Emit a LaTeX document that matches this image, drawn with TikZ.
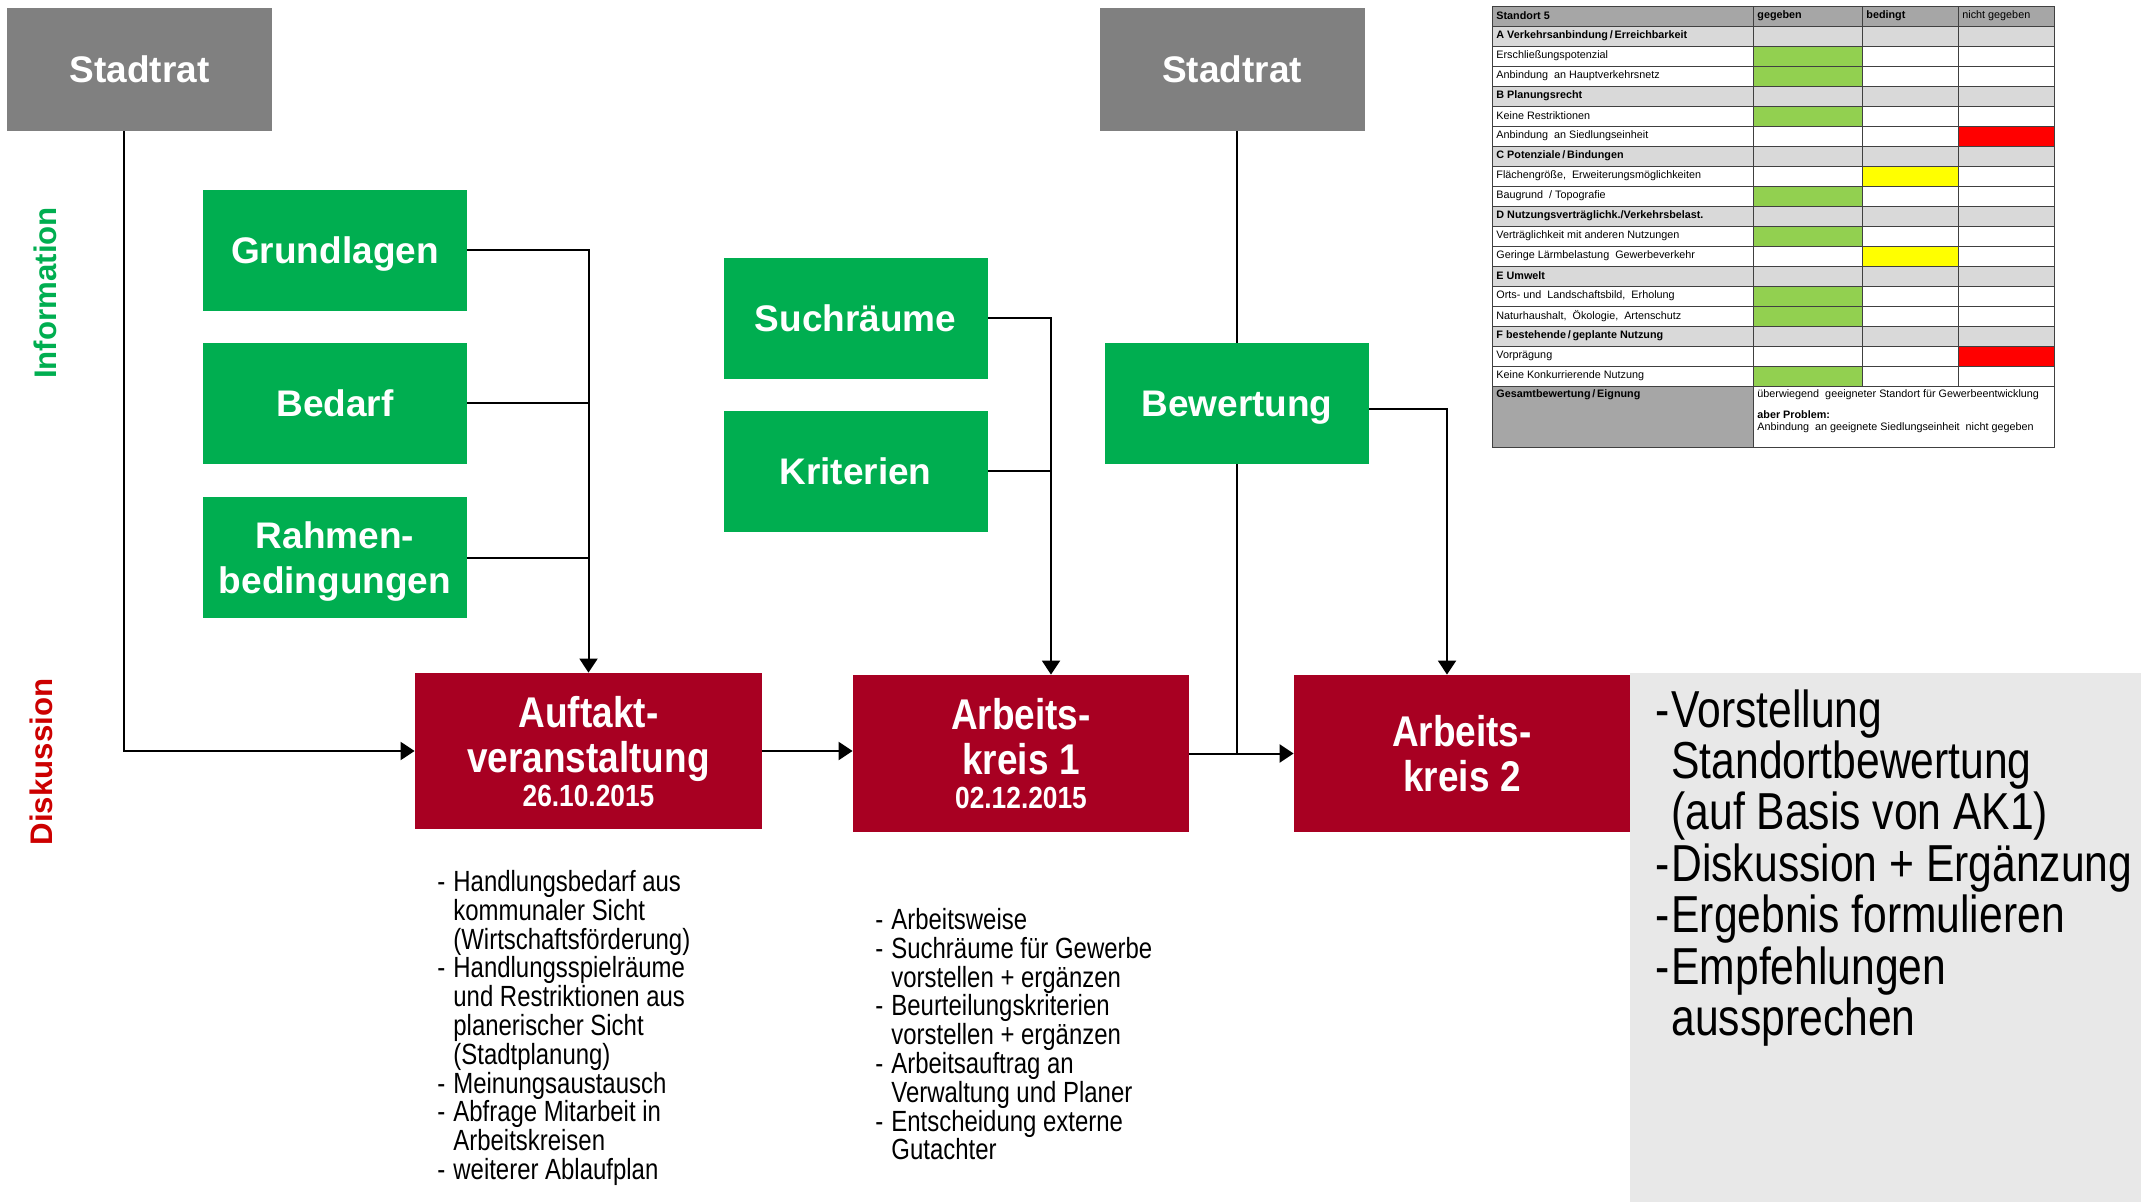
\documentclass[tikz,border=0pt]{standalone}
\usepackage{fontspec}
\setmainfont{Liberation Sans}
\newfontfamily\narrowfont[FakeStretch=0.82]{Liberation Sans}
\newfontfamily\titelfont[FakeStretch=0.86]{Liberation Sans}
\usepackage{tikz}
\usetikzlibrary{shapes,arrows.meta}
\usetikzlibrary{calc}
\definecolor{stadtgrau}{RGB}{128,128,128}
\definecolor{infogruen}{RGB}{0,174,80}
\definecolor{diskrot}{RGB}{168,0,34}
\definecolor{labelrot}{RGB}{204,0,0}
\definecolor{panelgrau}{RGB}{232,232,232}
\definecolor{ampelgruen}{RGB}{146,208,80}
\definecolor{ampelgelb}{RGB}{255,255,0}
\definecolor{ampelrot}{RGB}{255,0,0}
\definecolor{kopfgrau}{RGB}{166,166,166}
\definecolor{katgrau}{RGB}{217,217,217}
\newcommand{\strich}[1]{\makebox[8pt][l]{-}#1}
\newcommand{\weiter}[1]{\hspace*{8pt}#1}
\tikzstyle{ratblock} = [rectangle, fill=stadtgrau, text=white, inner sep=0pt, text depth=0pt,
    font=\fontsize{18.5}{22.5}\selectfont\bfseries, minimum width=132.5pt, minimum height=61.5pt]
\tikzstyle{infoblock} = [rectangle, fill=infogruen, text=white, inner sep=0pt, align=center, text depth=0pt,
    font=\fontsize{18.5}{22.5}\selectfont\bfseries, minimum width=132pt, minimum height=60.5pt]
\tikzstyle{diskblock} = [rectangle, fill=diskrot, text=white, inner sep=0pt, align=center, text depth=0pt,
    font=\titelfont\fontsize{21.5}{22.5}\selectfont\bfseries, minimum width=168pt, minimum height=78.5pt]
\tikzstyle{liste} = [anchor=north west, inner sep=0pt, align=left, font=\narrowfont\fontsize{14.6}{14.4}\selectfont]
\tikzstyle{line} = [draw, line width=1pt, -{Triangle[length=7pt,width=9pt]}]
\tikzstyle{joinline} = [draw, line width=1pt]
\tikzstyle{tabtext} = [anchor=west, inner sep=0pt, font=\fontsize{5.4}{6.5}\selectfont]
\tikzstyle{gitter} = [draw=black!75, line width=0.5pt]

\begin{document}
\begin{tikzpicture}[x=0.5pt, y=-0.5pt]
    \useasboundingbox (0,0) rectangle (2141,1202);
    \fill[panelgrau] (1630,673) rectangle (2141,1202);

    \node [ratblock] (stadtratL) at (139.5,69.5) {Stadtrat};
    \node [ratblock] (stadtratR) at (1232,69.5) {Stadtrat};
    \node [infoblock] (grundlagen) at (335,250.5) {Grundlagen};
    \node [infoblock, below of=grundlagen, node distance=76.5pt] (bedarf) {Bedarf};
    \node [infoblock, below of=bedarf, node distance=77.25pt] (rahmen) {Rahmen-\\bedingungen};
    \node [infoblock] (suchraeume) at (855.5,318.5) {Suchräume};
    \node [infoblock, below of=suchraeume, node distance=76.5pt] (kriterien) {Kriterien};
    \node [infoblock] (bewertung) at (1237,403.5) {Bewertung};
    \node [diskblock, minimum width=173.5pt, minimum height=78pt] (auftakt) at (588.5,751)
        {Auftakt-\\veranstaltung\\[-5.5pt]{\fontsize{15.3}{18}\selectfont 26.10.2015}};
    \node [diskblock] (akeins) at (1021,753.5)
        {Arbeits-\\kreis 1\\[-5.5pt]{\fontsize{15.3}{18}\selectfont 02.12.2015}};
    \node [diskblock] (akzwei) at (1462,753.5) {Arbeits-\\kreis 2};

    \node [rotate=90, text=infogruen, font=\fontsize{15.6}{18}\selectfont\bfseries] (information) at (45,293) {Information};
    \node [rotate=90, text=labelrot, font=\fontsize{15.6}{18}\selectfont\bfseries] (diskussion) at (41,762) {Diskussion};

    \node [liste] (punkteAuftakt) at (437,870) {\strich{Handlungsbedarf aus}\\ \weiter{kommunaler Sicht}\\
        \weiter{(Wirtschaftsförderung)}\\ \strich{Handlungsspielräume}\\ \weiter{und Restriktionen aus}\\
        \weiter{planerischer Sicht}\\ \weiter{(Stadtplanung)}\\ \strich{Meinungsaustausch}\\
        \strich{Abfrage Mitarbeit in}\\ \weiter{Arbeitskreisen}\\ \strich{weiterer Ablaufplan}};
    \node [liste] (punkteAKeins) at (875,908) {\strich{Arbeitsweise}\\ \strich{Suchräume für Gewerbe}\\
        \weiter{vorstellen + ergänzen}\\ \strich{Beurteilungskriterien}\\ \weiter{vorstellen + ergänzen}\\
        \strich{Arbeitsauftrag an}\\ \weiter{Verwaltung und Planer}\\ \strich{Entscheidung externe}\\
        \weiter{Gutachter}};
    \node [liste, font=\narrowfont\fontsize{26}{25.7}\selectfont] (punkteAKzwei) at (1655,689)
        {\strich{Vorstellung}\\ \weiter{Standortbewertung}\\ \weiter{(auf Basis von AK1)}\\
        \strich{Diskussion + Ergänzung}\\ \strich{Ergebnis formulieren}\\ \strich{Empfehlungen}\\
        \weiter{aussprechen}};

    % Draw edges
    \path [line] ([xshift=-8pt]stadtratL.south) |- (auftakt.west);
    \path [line] (grundlagen.east) -| (auftakt.north);
    \path [joinline] (bedarf.east) -- (bedarf.east -| auftakt.north);
    \path [joinline] (rahmen.east) -- (rahmen.east -| auftakt.north);
    \coordinate (suchziel) at ([xshift=15pt]akeins.north);
    \path [line] (suchraeume.east) -| (suchziel);
    \path [joinline] (kriterien.east) -- (kriterien.east -| suchziel);
    \path [joinline] (stadtratR.south -| bewertung.north) -- (bewertung.north);
    \path [joinline] (bewertung.south) -- (bewertung.south |- akeins.east);
    \path [line] ([yshift=-3pt]bewertung.east) -| ([xshift=-7.5pt]akzwei.north);
    \path [line] (auftakt.east) -- (auftakt.east -| akeins.west);
    \path [line] (akeins.east) -- (akzwei.west);

    % Bewertungstabelle Standort 5
    \foreach \i/\txt/\hg/\xa/\xb/\farbe in {
        0/{\bfseries Standort 5}/kopfgrau/1753/1753/white,
        1/{\bfseries A Verkehrsanbindung\,/\,Erreichbarkeit}/katgrau/1753/1753/white,
        2/{Erschließungspotenzial}/white/1753/1862/ampelgruen,
        3/{Anbindung\ \ an Hauptverkehrsnetz}/white/1753/1862/ampelgruen,
        4/{\bfseries B Planungsrecht}/katgrau/1753/1753/white,
        5/{Keine Restriktionen}/white/1753/1862/ampelgruen,
        6/{Anbindung\ \ an Siedlungseinheit}/white/1958/2054/ampelrot,
        7/{\bfseries C Potenziale\,/\,Bindungen}/katgrau/1753/1753/white,
        8/{Flächengröße,\ \ Erweiterungsmöglichkeiten}/white/1862/1958/ampelgelb,
        9/{Baugrund\ \ /\ Topografie}/white/1753/1862/ampelgruen,
        10/{\bfseries D Nutzungsverträglichk./Verkehrsbelast.}/katgrau/1753/1753/white,
        11/{Verträglichkeit mit anderen Nutzungen}/white/1753/1862/ampelgruen,
        12/{Geringe Lärmbelastung\ \ Gewerbeverkehr}/white/1862/1958/ampelgelb,
        13/{\bfseries E Umwelt}/katgrau/1753/1753/white,
        14/{Orts- und\ \ Landschaftsbild,\ \ Erholung}/white/1753/1862/ampelgruen,
        15/{Naturhaushalt,\ \ Ökologie,\ \ Artenschutz}/white/1753/1862/ampelgruen,
        16/{\bfseries F bestehende\,/\,geplante Nutzung}/katgrau/1753/1753/white,
        17/{Vorprägung}/white/1958/2054/ampelrot,
        18/{Keine Konkurrierende Nutzung}/white/1753/1862/ampelgruen}
    {
        \fill[\hg] (1492,7+20*\i) rectangle (2054,27+20*\i);
        \fill[\farbe] (\xa,7+20*\i) rectangle (\xb,27+20*\i);
        \node [tabtext] (zeile\i) at (1496,16+20*\i) {\txt};
    }
    \node [tabtext] (kopfgegeben) at (1757,16) {\bfseries gegeben};
    \node [tabtext] (kopfbedingt) at (1866,16) {\bfseries bedingt};
    \node [tabtext] (kopfnicht) at (1962,16) {nicht gegeben};
    \fill[kopfgrau] (1492,387) rectangle (1753,448);
    \node [tabtext] (gesamt) at (1496,395) {\bfseries Gesamtbewertung\,/\,Eignung};
    \node [tabtext] (eignung) at (1757,395) {überwiegend\ \ geeigneter Standort für Gewerbeentwicklung};
    \node [tabtext] (problem) at (1757,415) {\bfseries aber Problem:};
    \node [tabtext] (problemtext) at (1757,428) {Anbindung\ \ an geeignete Siedlungseinheit\ \ nicht gegeben};
    \foreach \i in {0,...,19}
        \draw [gitter] (1492,7+20*\i) -- (2054,7+20*\i);
    \draw [gitter] (1492,7) rectangle (2054,448);
    \draw [gitter] (1753,7) -- (1753,448);
    \foreach \xs in {1862,1958}
        \draw [gitter] (\xs,7) -- (\xs,387);
\end{tikzpicture}
\end{document}
